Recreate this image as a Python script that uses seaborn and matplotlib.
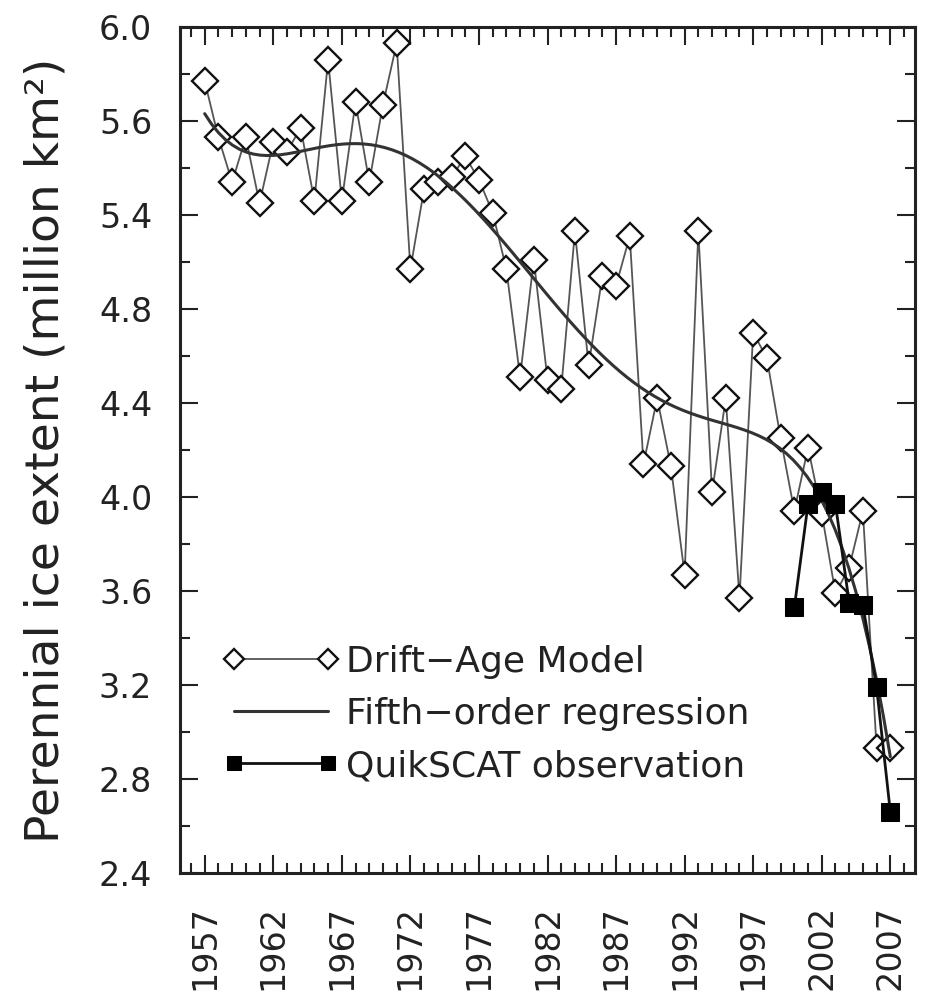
import numpy as np
import pandas as pd
import matplotlib
matplotlib.use("Agg")
import matplotlib.pyplot as plt
from matplotlib.ticker import MultipleLocator, FixedLocator
import seaborn as sns

# ---------------- data ----------------
model_years = list(range(1957, 2008))
model_extent = [5.77, 5.53, 5.34, 5.53, 5.25, 5.51, 5.47, 5.57, 5.26, 5.86,
                5.26, 5.68, 5.34, 5.67, 5.93, 4.97, 5.31, 5.34, 5.36, 5.45,
                5.35, 5.21, 4.97, 4.51, 5.01, 4.50, 4.46, 5.13, 4.56, 4.94,
                4.90, 5.11, 4.14, 4.42, 4.13, 3.67, 5.13, 4.02, 4.42, 3.57,
                4.70, 4.59, 4.25, 3.94, 4.21, 3.93, 3.59, 3.70, 3.94, 2.93,
                2.93]

qscat_years = [2000, 2001, 2002, 2003, 2004, 2005, 2006, 2007]
qscat_extent = [3.53, 3.97, 4.02, 3.97, 3.55, 3.54, 3.19, 2.66]

y_tick_values = [2.4, 2.8, 3.2, 3.6, 4.0, 4.4, 4.8, 5.2, 5.6, 6.0]
y_tick_labels = ["2.4", "2.8", "3.2", "3.6", "4.0", "4.4", "4.8", "5.4", "5.6", "6.0"]
x_tick_years = [1957, 1962, 1967, 1972, 1977, 1982, 1987, 1992, 1997, 2002, 2007]

series_labels = ["Drift\u2212Age Model", "Fifth\u2212order regression", "QuikSCAT observation"]
y_label = "Perennial ice extent (million km\u00b2)"

model_df = pd.DataFrame({"year": model_years, "extent": model_extent})
qscat_df = pd.DataFrame({"year": qscat_years, "extent": qscat_extent})

# ---------------- style ----------------
sns.set_style("ticks")
plt.rcParams["font.family"] = ["DejaVu Sans"]
TXT = "#222222"

fig = plt.figure(figsize=(9.25, 9.97), dpi=100)
ax = fig.add_axes([180 / 925, 1 - 873 / 997, 735 / 925, 846 / 997])

# Drift-Age model
sns.lineplot(data=model_df, x="year", y="extent", ax=ax, color="#555555",
             linewidth=1.3, marker="D", markersize=13.5, markerfacecolor="white",
             markeredgecolor="#111111", markeredgewidth=1.7,
             label=series_labels[0], zorder=3)

# Fifth-order regression of the model series
sns.regplot(data=model_df, x="year", y="extent", ax=ax, order=5, ci=None,
            scatter=False, truncate=True, label=series_labels[1],
            line_kws=dict(color="#333333", linewidth=2.2, zorder=4))

# QuikSCAT
sns.lineplot(data=qscat_df, x="year", y="extent", ax=ax, color="#111111",
             linewidth=2.0, marker="s", markersize=12.5, markerfacecolor="black",
             markeredgecolor="black", label=series_labels[2], zorder=5)

# ---------------- axes ----------------
ax.set_xlim(1955.2, 2008.8)
ax.set_ylim(2.4, 6.0)
ax.yaxis.set_major_locator(FixedLocator(y_tick_values))
ax.set_yticklabels(y_tick_labels)
ax.yaxis.set_minor_locator(MultipleLocator(0.2))
ax.xaxis.set_major_locator(FixedLocator(x_tick_years))
ax.set_xticklabels([str(y) for y in x_tick_years], rotation=90)
ax.xaxis.set_minor_locator(MultipleLocator(1))

ax.tick_params(which="both", direction="in", top=True, right=True,
               color="#222222", width=1.5)
ax.tick_params(which="major", length=13)
ax.tick_params(which="minor", length=7)
ax.tick_params(axis="y", which="major", labelsize=24, pad=20, labelcolor=TXT)
ax.tick_params(axis="x", which="major", labelsize=24, pad=23, labelcolor=TXT)
for s in ax.spines.values():
    s.set_linewidth(2.2)
    s.set_color("#222222")

ax.set_xlabel("")
ax.set_ylabel(y_label, fontsize=34, color=TXT, labelpad=22)

# ---------------- legend ----------------
handles, labels = ax.get_legend_handles_labels()
hmap = dict(zip(labels, handles))
leg = ax.legend([hmap[l] for l in series_labels if l in hmap],
                [l for l in series_labels if l in hmap],
                loc="center left", bbox_to_anchor=(0.0585, 0.188),
                frameon=False, fontsize=26, numpoints=2, handlelength=3.2,
                handletextpad=0.2, labelspacing=0.5, borderpad=0,
                borderaxespad=0, markerscale=0.75)
for t in leg.get_texts():
    t.set_color(TXT)

fig.savefig("out.png", dpi=100)
